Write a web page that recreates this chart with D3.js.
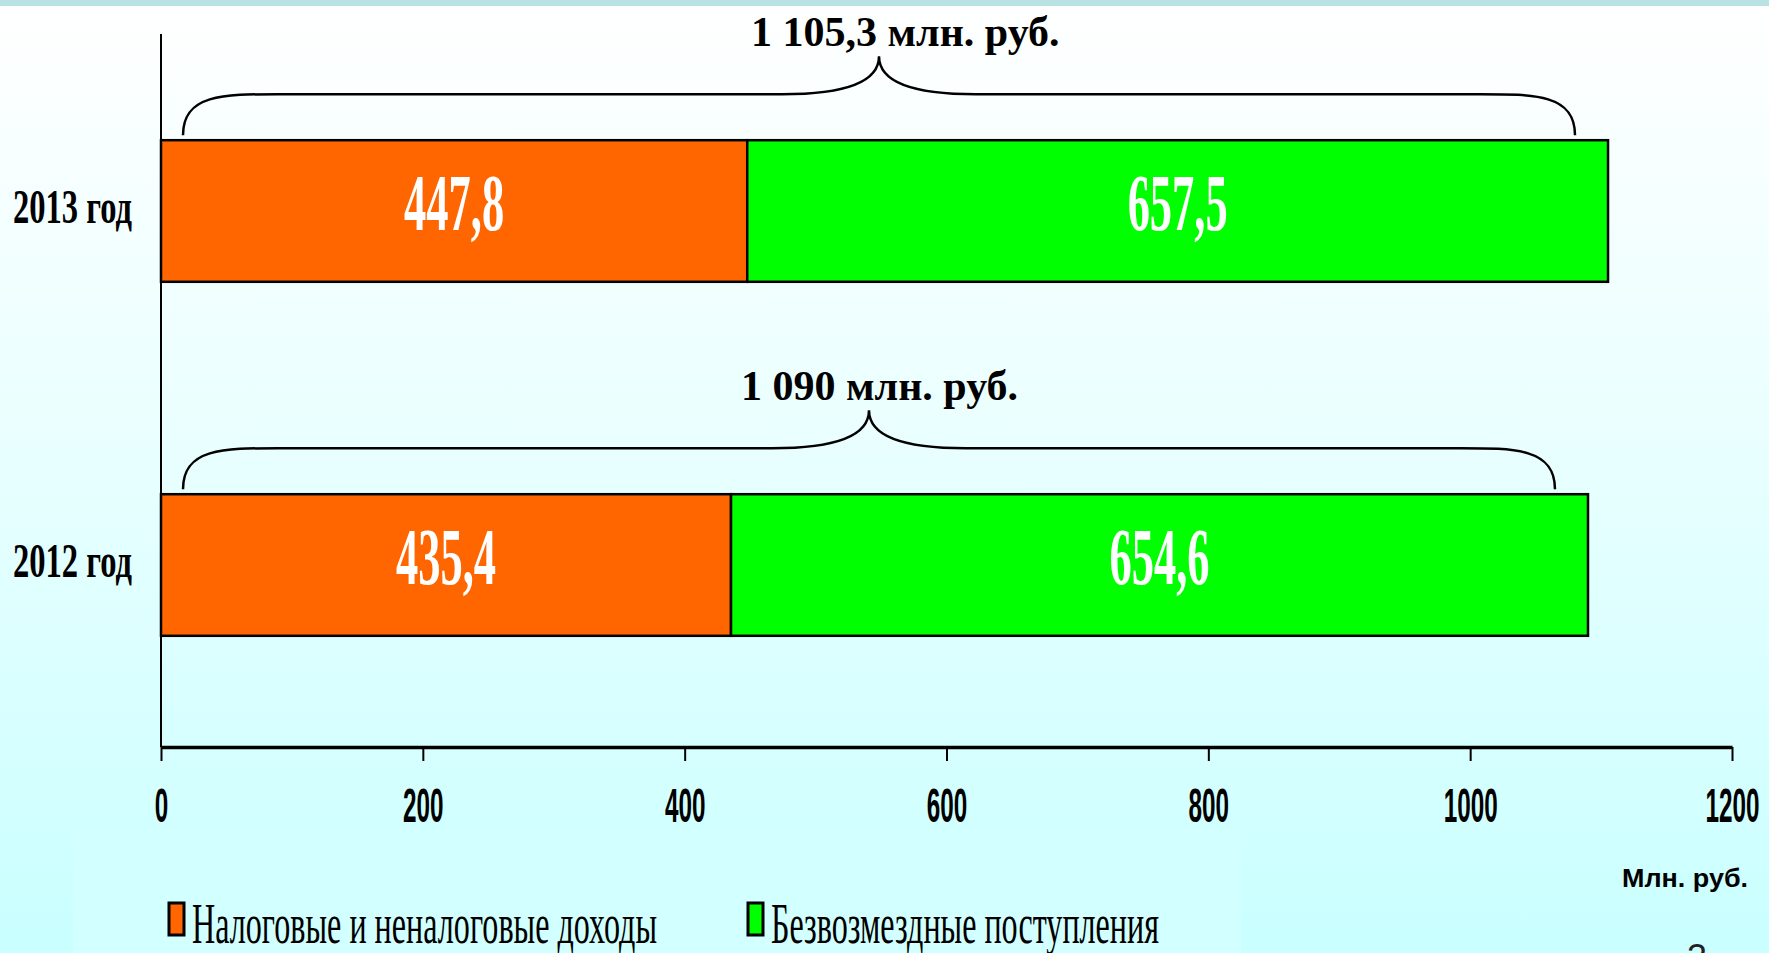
<!DOCTYPE html>
<html>
<head>
<meta charset="utf-8">
<script src="https://cdn.jsdelivr.net/npm/d3@7"></script>
<style>
  html, body { margin: 0; padding: 0; overflow: hidden; }
  svg { display: block; }
</style>
</head>
<body>
<svg id="chart" width="1769" height="953"></svg>
<script>
// ---- data ----
const categories = ["2013 год", "2012 год"];
const taxRevenue = [447.8, 435.4];      // Налоговые и неналоговые доходы
const grants = [657.5, 654.6];          // Безвозмездные поступления
const totalLabels = ["1 105,3 млн. руб.", "1 090 млн. руб."];
const seriesNames = ["Налоговые и неналоговые доходы", "Безвозмездные поступления"];
const seriesColors = ["#ff6600", "#00ff00"];
const xTicks = [0, 200, 400, 600, 800, 1000, 1200];
const unitLabel = "Млн. руб.";

const svg = d3.select("#chart");
const W = 1769, H = 953;

// background
const defs = svg.append("defs");
const grad = defs.append("linearGradient").attr("id", "bg").attr("x1", 0).attr("y1", 0).attr("x2", 0).attr("y2", 1);
grad.append("stop").attr("offset", "0%").attr("stop-color", "#ffffff");
grad.append("stop").attr("offset", "45%").attr("stop-color", "#eaffff");
grad.append("stop").attr("offset", "100%").attr("stop-color", "#c9ffff");
svg.append("rect").attr("width", W).attr("height", H).attr("fill", "url(#bg)");
svg.append("rect").attr("x", 73).attr("y", 828).attr("width", 1168).attr("height", 125).attr("fill", "#d2ffff");
svg.append("rect").attr("width", W).attr("height", 6).attr("fill", "#b9e2e2");

// scales
const x = d3.scaleLinear().domain([0, 1200]).range([161, 1732]);
const y = d3.scaleBand().domain(categories).range([34, 742]).paddingInner(0.6).paddingOuter(0.3);
const axisY = 747;

const rows = categories.map((c, i) => ({
  cat: c, tax: taxRevenue[i], grant: grants[i], total: taxRevenue[i] + grants[i], label: totalLabels[i]
}));

// bars
const g = svg.append("g");
rows.forEach(r => {
  const segs = [
    { x0: 0, x1: r.tax, v: r.tax, color: seriesColors[0] },
    { x0: r.tax, x1: r.total, v: r.grant, color: seriesColors[1] }
  ];
  segs.forEach(s => {
    g.append("rect")
      .attr("x", x(s.x0)).attr("y", y(r.cat))
      .attr("width", x(s.x1) - x(s.x0)).attr("height", y.bandwidth())
      .attr("fill", s.color).attr("stroke", "#000").attr("stroke-width", 2.5);
    g.append("text")
      .attr("x", (x(s.x0) + x(s.x1)) / 2)
      .attr("y", y(r.cat) + y.bandwidth() / 2 + 19)
      .attr("text-anchor", "middle")
      .attr("font-family", "'Liberation Serif', 'Times New Roman', serif")
      .attr("font-weight", "bold").attr("font-size", 80)
      .attr("fill", "#ffffff")
      .attr("textLength", 100).attr("lengthAdjust", "spacingAndGlyphs")
      .text(String(s.v).replace(".", ","));
  });

  // category label
  svg.append("text")
    .attr("x", 132).attr("y", y(r.cat) + y.bandwidth() / 2 + 12)
    .attr("text-anchor", "end")
    .attr("font-family", "'Liberation Serif', 'Times New Roman', serif")
    .attr("font-weight", "bold").attr("font-size", 48)
    .attr("fill", "#000")
    .attr("textLength", 119).attr("lengthAdjust", "spacingAndGlyphs")
    .text(r.cat);

  // brace
  const top = y(r.cat);
  const xl = x(0) + 22, xr = x(r.total) - 33;
  const xm = (xl + xr) / 2;
  const yEnd = top - 5, yLine = top - 46, yTip = top - 84;
  const p = d3.path();
  p.moveTo(xl, yEnd);
  p.bezierCurveTo(xl, yLine - 0, xl + 40, yLine, xl + 95, yLine);
  p.lineTo(xm - 97, yLine);
  p.bezierCurveTo(xm - 40, yLine, xm, yLine - 10, xm, yTip);
  p.bezierCurveTo(xm, yLine - 10, xm + 40, yLine, xm + 97, yLine);
  p.lineTo(xr - 95, yLine);
  p.bezierCurveTo(xr - 40, yLine, xr, yLine, xr, yEnd);
  svg.append("path").attr("d", p.toString()).attr("fill", "none")
    .attr("stroke", "#000").attr("stroke-width", 2.5);

  svg.append("text")
    .attr("x", xm - 128).attr("y", yTip - 10)
    .attr("font-family", "'Liberation Serif', 'Times New Roman', serif")
    .attr("font-weight", "bold").attr("font-size", 42)
    .attr("fill", "#000")
    .text(r.label);
});

// y axis line
svg.append("line").attr("x1", x(0)).attr("x2", x(0)).attr("y1", 34).attr("y2", axisY)
  .attr("stroke", "#000").attr("stroke-width", 2);

// x axis
const xAxis = d3.axisBottom(x).tickValues(xTicks).tickSize(14).tickSizeOuter(0).tickFormat(d => String(d));
const ax = svg.append("g").attr("transform", `translate(0,${axisY})`).call(xAxis);
ax.select(".domain").attr("stroke", "#000").attr("stroke-width", 3.5);
ax.selectAll(".tick line").attr("stroke", "#000").attr("stroke-width", 2);
ax.selectAll(".tick text")
  .attr("y", 75).attr("dy", 0)
  .attr("fill", "#000")
  .attr("font-family", "'Liberation Sans', Arial, sans-serif")
  .attr("font-weight", "bold").attr("font-size", 48)
  .attr("textLength", d => String(d).length * 13.5)
  .attr("lengthAdjust", "spacingAndGlyphs");

// unit label
svg.append("text")
  .attr("x", 1622).attr("y", 887)
  .attr("font-family", "'Liberation Sans', Arial, sans-serif")
  .attr("font-weight", "bold").attr("font-size", 26)
  .attr("fill", "#000")
  .attr("textLength", 126).attr("lengthAdjust", "spacingAndGlyphs")
  .text(unitLabel);

// legend
const legendX = [169, 748];
const legendW = [465, 388];
seriesNames.forEach((n, i) => {
  svg.append("rect").attr("x", legendX[i]).attr("y", 903).attr("width", 15).attr("height", 32)
    .attr("fill", seriesColors[i]).attr("stroke", "#000").attr("stroke-width", 3);
  svg.append("text")
    .attr("x", legendX[i] + 23).attr("y", 943)
    .attr("font-family", "'Liberation Serif', 'Times New Roman', serif")
    .attr("font-size", 58).attr("fill", "#000")
    .attr("textLength", legendW[i]).attr("lengthAdjust", "spacingAndGlyphs")
    .text(n);
});

// slide number (cut off at bottom)
svg.append("text").attr("x", 1687).attr("y", 970)
  .attr("font-family", "'Liberation Sans', Arial, sans-serif")
  .attr("font-size", 36).attr("fill", "#222").text("3");
</script>
</body>
</html>
